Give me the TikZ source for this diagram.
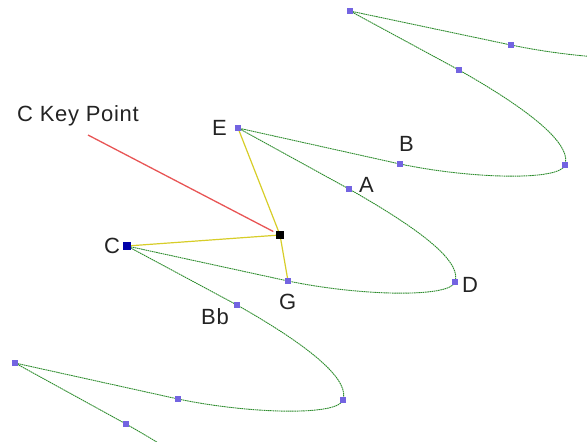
\documentclass[tikz,border=0pt]{standalone}
\usepackage{fontspec}
\setmainfont[LetterSpace=3]{Liberation Sans}
\usetikzlibrary{calc}
\definecolor{crv}{RGB}{45,140,45}
\definecolor{ptc}{RGB}{115,100,225}
\definecolor{cblue}{RGB}{0,0,170}
\definecolor{yel}{RGB}{215,205,40}
\definecolor{redl}{RGB}{232,85,85}
\definecolor{txt}{RGB}{35,35,35}
\begin{document}
\begin{tikzpicture}[x=1pt,y=-1pt,
  curve/.style={draw=crv, line width=0.9pt, dash pattern=on 1.6pt off 0.6pt},
  ptbox/.style={rectangle, fill=ptc, minimum size=6pt, inner sep=0pt},
  yline/.style={draw=yel, line width=1.2pt},
  rline/.style={draw=redl, line width=1.3pt},
  lbl/.style={anchor=base west, inner sep=0pt, font=\fontsize{22}{26}\selectfont, text=txt}]
\useasboundingbox (0,0) rectangle (587,442);
% positions
\coordinate (D0) at (677,48);
\coordinate (G0) at (511,45);
\coordinate (S1) at (350,11);
\coordinate (A1) at (459,70);
\coordinate (D1) at (565,165);
\coordinate (G1) at (400,164);
\coordinate (E) at (238,128);
\coordinate (A) at (349,189);
\coordinate (D) at (455,282);
\coordinate (G) at (288,281);
\coordinate (C) at (127,246);
\coordinate (Bb) at (237,305);
\coordinate (D3) at (343,400);
\coordinate (G3) at (178,399);
\coordinate (S4) at (15,363);
\coordinate (A4) at (126,424);
\coordinate (D4) at (232,517);
\coordinate (K) at (280,235);
\coordinate (R0) at (88,135);
% curve
\begin{scope}
\clip (0,0) rectangle (587,442);
\draw[curve] (D0) .. controls +(-5,16) and +(72,15) .. (G0) -- (S1)
  -- (A1) .. controls +(83,47) and +(6,-18) .. (D1) .. controls +(-5,16) and +(72,15) .. (G1) -- (E)
  -- (A) .. controls +(83,47) and +(6,-18) .. (D) .. controls +(-5,16) and +(72,15) .. (G) -- (C)
  -- (Bb) .. controls +(83,47) and +(6,-18) .. (D3) .. controls +(-5,16) and +(72,15) .. (G3) -- (S4)
  -- (A4) .. controls +(83,47) and +(6,-18) .. (D4);
\end{scope}
% yellow and red lines
\draw[yline] (C) -- (K);
\draw[yline] (E) -- (K) -- (G);
\draw[rline] (R0) -- ($(R0)!0.965!(K)$);
% point markers
\foreach \p in {G0,S1,A1,D1,G1,E,A,D,G,Bb,D3,G3,S4,A4}
  \node[ptbox] (n\p) at (\p) {};
\node[rectangle, fill=cblue, minimum size=8pt, inner sep=0pt] (nC) at (C) {};
\node[rectangle, fill=black, minimum size=8pt, inner sep=0pt] (nK) at (K) {};
% labels
\node[lbl] (tKey) at (17,121) {C Key Point};
\node[lbl] (tE) at (212,135) {E};
\node[lbl] (tB) at (399,151) {B};
\node[lbl] (tA) at (359,192) {A};
\node[lbl] (tD) at (462,292) {D};
\node[lbl] (tG) at (279,309) {G};
\node[lbl] (tBb) at (201,324) {Bb};
\node[lbl] (tC) at (104,253) {C};
\end{tikzpicture}
\end{document}
